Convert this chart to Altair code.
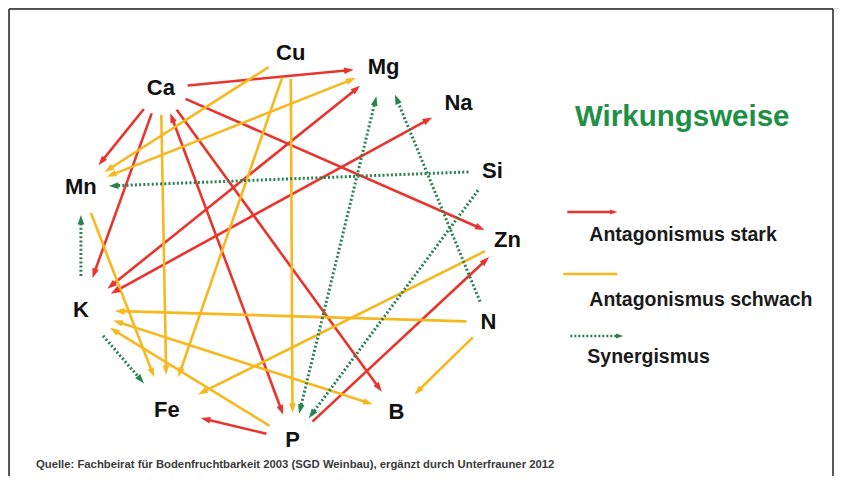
import math
import altair as alt
import pandas as pd

# ---- data -------------------------------------------------------------
node_names = ["Cu", "Mg", "Na", "Si", "Zn", "N", "B", "P", "Fe", "K", "Mn", "Ca"]
node_x = [290, 383, 458, 492, 507, 488, 396, 292, 166, 80, 80, 160]
node_y = [53, 67, 103, 171, 240, 322, 412, 440, 410, 310, 187, 88]

edge_from = ["Ca", "Ca", "Ca", "Ca", "Ca", "Ca", "K", "K", "P", "P",
             "Cu", "Mg", "Ca", "Cu", "Cu", "Mn", "N", "Zn", "K", "P", "N",
             "Si", "K", "K", "P", "N", "Si"]
edge_to = ["Mg", "Mn", "K", "P", "B", "Zn", "Mg", "Na", "Fe", "Zn",
           "Mn", "Mn", "Fe", "Fe", "P", "Fe", "K", "Fe", "B", "K", "B",
           "Mn", "Mn", "Fe", "Mg", "Mg", "P"]
edge_kind = ["stark"] * 10 + ["schwach"] * 11 + ["syn"] * 6
edge_both = [False, False, False, True, False, False, True, True, False, False,
             False, True, False, False, False, False, False, False, True, False, False,
             False, False, False, True, False, False]

legend_labels = ["Antagonismus stark", "Antagonismus schwach", "Synergismus"]
title_text = "Wirkungsweise"
source_text = ("Quelle: Fachbeirat für Bodenfruchtbarkeit 2003 (SGD Weinbau), "
               "ergänzt durch Unterfrauner 2012")

# ---- layout / style ---------------------------------------------------
gap = {"Cu": 26, "Mg": 30, "Na": 30, "Si": 24, "Zn": 25, "N": 22, "B": 25,
       "P": 27, "Fe": 35, "K": 34, "Mn": 28, "Ca": 27}
colors = {"stark": "#e8342c", "schwach": "#f6b81e", "syn": "#2a8250"}
ARROW = "M0,0L0.8,2.3L-0.8,2.3Z"

pos = {n: (x, y) for n, x, y in zip(node_names, node_x, node_y)}

line_rows, head_rows = [], []
for s, t, k, both in zip(edge_from, edge_to, edge_kind, edge_both):
    sx, sy = pos[s]
    tx, ty = pos[t]
    d = math.hypot(tx - sx, ty - sy)
    ux, uy = (tx - sx) / d, (ty - sy) / d
    ax, ay = sx + ux * gap[s], sy + uy * gap[s]
    bx, by = tx - ux * gap[t], ty - uy * gap[t]
    back = 5
    x1, y1 = (ax + ux * back, ay + uy * back) if both else (ax, ay)
    x2, y2 = bx - ux * back, by - uy * back
    line_rows.append(dict(x=x1, y=y1, x2=x2, y2=y2, kind=k))
    head_rows.append(dict(x=bx, y=by, kind=k,
                          angle=math.degrees(math.atan2(ux, -uy)) % 360))
    if both:
        head_rows.append(dict(x=ax, y=ay, kind=k,
                              angle=math.degrees(math.atan2(-ux, uy)) % 360))

lines = pd.DataFrame(line_rows)
heads = pd.DataFrame(head_rows)
nodes = pd.DataFrame({"name": node_names, "x": node_x, "y": node_y})

# legend items (layout positions in page pixels)
leg = pd.DataFrame({
    "kind": ["stark", "schwach", "syn"],
    "label": legend_labels,
    "lx": [567, 563, 570], "lx2": [612, 617, 618], "ly": [212, 274, 336],
    "hx": [617, 617, 623],
    "tx": [589, 589, 587], "ty": [235, 300, 357],
})
leg["angle"] = 90

X = alt.Scale(domain=[8, 839], nice=False, zero=False)
Y = alt.Scale(domain=[8, 478], reverse=True, nice=False, zero=False)
cscale = alt.Scale(domain=list(colors.keys()), range=list(colors.values()))

def xe(f):
    return alt.X(f"{f}:Q", scale=X, axis=None)

def ye(f):
    return alt.Y(f"{f}:Q", scale=Y, axis=None)

solid = alt.Chart(lines).transform_filter("datum.kind != 'syn'").mark_rule(
    strokeWidth=2.6, strokeCap="butt").encode(
    x=xe("x"), y=ye("y"), x2="x2:Q", y2="y2:Q",
    color=alt.Color("kind:N", scale=cscale, legend=None))

dotted = alt.Chart(lines).transform_filter("datum.kind == 'syn'").mark_rule(
    strokeWidth=3, strokeDash=[2, 2.2], strokeCap="butt").encode(
    x=xe("x"), y=ye("y"), x2="x2:Q", y2="y2:Q",
    color=alt.Color("kind:N", scale=cscale, legend=None))

arrowheads = alt.Chart(heads).mark_point(
    shape=ARROW, filled=True, size=70, opacity=1, strokeWidth=0).encode(
    x=xe("x"), y=ye("y"),
    angle=alt.Angle("angle:Q", scale=None),
    color=alt.Color("kind:N", scale=cscale, legend=None))

labels = alt.Chart(nodes).mark_text(
    font="Liberation Sans", fontWeight="bold", fontSize=22, color="#111111",
    baseline="middle", align="center").encode(
    x=xe("x"), y=ye("y"), text="name:N")

# legend
leg_solid = alt.Chart(leg).transform_filter("datum.kind != 'syn'").mark_rule(
    strokeWidth=2.6).encode(
    x=xe("lx"), y=ye("ly"), x2="lx2:Q",
    color=alt.Color("kind:N", scale=cscale, legend=None))
leg_dot = alt.Chart(leg).transform_filter("datum.kind == 'syn'").mark_rule(
    strokeWidth=2.5, strokeDash=[2, 2]).encode(
    x=xe("lx"), y=ye("ly"), x2="lx2:Q",
    color=alt.Color("kind:N", scale=cscale, legend=None))
leg_head = alt.Chart(leg).transform_filter("datum.kind != 'schwach'").mark_point(
    shape=ARROW, filled=True, size=40, opacity=1, strokeWidth=0).encode(
    x=xe("hx"), y=ye("ly"), angle=alt.Angle("angle:Q", scale=None),
    color=alt.Color("kind:N", scale=cscale, legend=None))
leg_text = alt.Chart(leg).mark_text(
    font="Liberation Sans", fontWeight="bold", fontSize=19.5, color="#1a1a1a",
    align="left", baseline="middle").encode(
    x=xe("tx"), y=ye("ty"), text="label:N")

title = alt.Chart(pd.DataFrame({"t": [title_text]})).mark_text(
    font="Liberation Sans", fontWeight="bold", fontSize=29.5, color="#1f8f47",
    align="left", baseline="middle").encode(
    x=alt.value(566), y=alt.value(109), text="t:N")

source = alt.Chart(pd.DataFrame({"t": [source_text]})).mark_text(
    font="Liberation Sans", fontWeight="bold", fontSize=11.3, color="#3a3a3a",
    align="left", baseline="middle").encode(
    x=alt.value(27), y=alt.value(457), text="t:N")

frame_l = alt.Chart(pd.DataFrame({"a": [0]})).mark_rule(
    color="#222222", strokeWidth=1.5).encode(
    x=alt.value(0), y=alt.value(1), y2=alt.value(468))
frame_t = alt.Chart(pd.DataFrame({"a": [0]})).mark_rule(
    color="#222222", strokeWidth=1.5).encode(
    x=alt.value(0), x2=alt.value(824), y=alt.value(1))
frame_r = alt.Chart(pd.DataFrame({"a": [0]})).mark_rule(
    color="#222222", strokeWidth=1.5).encode(
    x=alt.value(824), y=alt.value(1), y2=alt.value(468))

chart = alt.layer(
    frame_l, frame_t, frame_r,
    solid, dotted, arrowheads, labels,
    leg_solid, leg_dot, leg_head, leg_text, title, source,
).properties(
    width=831, height=470, padding=0,
    autosize=alt.AutoSizeParams(type="fit", contains="padding"),
).configure_view(stroke=None).configure(background="white")

chart.save("out.html", embed_options={"renderer": "svg", "actions": False})
